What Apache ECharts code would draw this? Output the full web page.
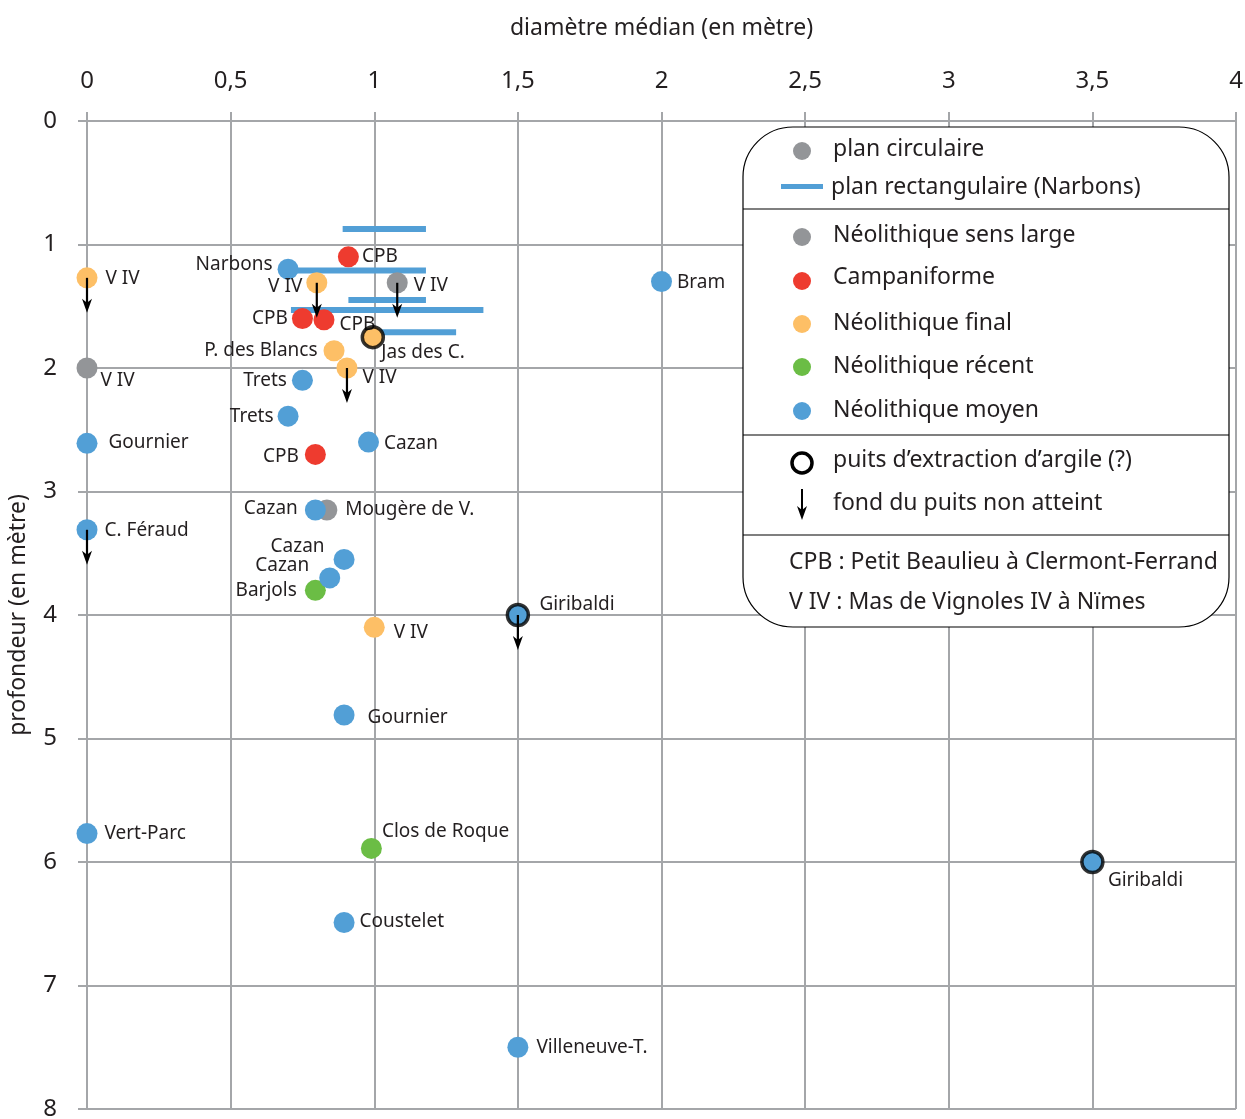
<!DOCTYPE html>
<html>
<head>
<meta charset="utf-8">
<script src="https://cdn.jsdelivr.net/npm/echarts@6/dist/echarts.min.js"></script>
<style>
html,body{margin:0;padding:0;background:#fff;}
#chart{width:1245px;height:1119px;}
</style>
</head>
<body>
<div id="chart"></div>
<script>
// ---------- DATA ----------
const xTickLabels = ['0', '0,5', '1', '1,5', '2', '2,5', '3', '3,5', '4'];
const yTickLabels = ['0', '1', '2', '3', '4', '5', '6', '7', '8'];

// [diamètre médian, profondeur, nom]
const neoSensLarge = [[0, 2.0, 'V IV'], [1.08, 1.31, 'V IV'], [0.835, 3.15, 'Mougère de V.']];
const campaniforme = [[0.91, 1.10, 'CPB'], [0.75, 1.60, 'CPB'], [0.825, 1.61, 'CPB'], [0.795, 2.70, 'CPB']];
const neoFinal = [[0, 1.27, 'V IV'], [0.80, 1.31, 'V IV'], [0.995, 1.75, 'Jas des C.'], [0.86, 1.86, 'P. des Blancs'], [0.905, 2.0, 'V IV'], [1.0, 4.10, 'V IV']];
const neoRecent = [[0.795, 3.80, 'Barjols'], [0.99, 5.89, 'Clos de Roque']];
const neoMoyen = [
  [0.70, 1.20, 'Narbons'], [2.0, 1.30, 'Bram'], [0.75, 2.10, 'Trets'], [0.70, 2.39, 'Trets'],
  [0, 2.61, 'Gournier'], [0.98, 2.60, 'Cazan'], [0, 3.31, 'C. Féraud'], [0.795, 3.15, 'Cazan'],
  [0.895, 3.55, 'Cazan'], [0.845, 3.70, 'Cazan'], [1.5, 4.0, 'Giribaldi'], [0.895, 4.81, 'Gournier'],
  [0, 5.77, 'Vert-Parc'], [3.5, 6.0, 'Giribaldi'], [0.895, 6.49, 'Coustelet'], [1.5, 7.5, 'Villeneuve-T.']
];
// plan rectangulaire (Narbons): [diamètre début, diamètre fin, profondeur]
const narbonsRect = [[0.89, 1.18, 0.875], [0.70, 1.18, 1.21], [0.91, 1.18, 1.45], [0.71, 1.38, 1.53], [1.0, 1.285, 1.71]];
// puits d'extraction d'argile (?)
const puits = [[0.995, 1.75], [1.5, 4.0], [3.5, 6.0]];
// fond du puits non atteint
const nonAtteint = [[0, 1.27], [0.80, 1.31], [1.08, 1.31], [0.905, 2.0], [0, 3.31], [1.5, 4.0]];

// ---------- LAYOUT / STYLE ----------
const FONT = 'Noto Sans';
const TXT = '#231F20';
const GRIDC = '#A4A6A9';
const colors = {gris: '#939598', rouge: '#EE3B2F', orange: '#FDBF66', vert: '#6BBD45', bleu: '#529FD6'};

// label placement per point: [position, gap, dy]
const labelLayout = {
  gris: [['right', 3, 13], ['right', 6, 3], ['right', 8, 0]],
  rouge: [['right', 3, 0], ['left', 4, 0], ['right', 5, 5], ['left', 6, 2]],
  orange: [['right', 8, 1], ['left', 4, 4], ['right', -2, 15], ['left', 6, 0], ['right', 5, 10], ['right', 9, 5]],
  vert: [['left', 8, 0], ['right', 0, -17]],
  bleu: [['left', 5, -5], ['right', 5, 1], ['left', 5, 0], ['left', 4, 0], ['right', 11, -1], ['right', 5, 1],
         ['right', 7, 1], ['left', 7, -1], ['left', 9, -13], ['left', 10, -12], ['right', 11, -10], ['right', 13, 3],
         ['right', 7, 0], ['right', 5, 19], ['right', 5, -1], ['right', 8, 0]]
};

function buildData(arr, key) {
  return arr.map((d, i) => {
    const l = labelLayout[key][i];
    return {
      value: [d[0], d[1]],
      name: d[2],
      label: {
        show: true,
        position: l[0],
        distance: 0,
        offset: [l[0] === 'left' ? -l[1] : l[1], l[2]],
        formatter: d[2]
      }
    };
  });
}

function scatterSeries(name, arr, key) {
  return {
    name: name,
    type: 'scatter',
    z: 3,
    symbol: 'circle',
    symbolSize: 21,
    itemStyle: {color: colors[key], opacity: 1},
    label: {fontFamily: FONT, fontSize: 19, color: TXT},
    emphasis: {disabled: true},
    data: buildData(arr, key)
  };
}

const chart = echarts.init(document.getElementById('chart'), null, {renderer: 'canvas'});

const option = {
  animation: false,
  backgroundColor: '#fff',
  textStyle: {fontFamily: FONT},
  grid: {left: 87, top: 121, right: 9, bottom: 10, containLabel: false, outerBoundsMode: 'none'},
  xAxis: {
    type: 'value', position: 'top', min: 0, max: 4, interval: 0.5,
    name: 'diamètre médian (en mètre)', nameLocation: 'middle', nameGap: 81,
    nameTextStyle: {fontFamily: FONT, fontSize: 23, color: TXT},
    axisLine: {show: true, lineStyle: {color: GRIDC, width: 2}},
    axisTick: {show: true, length: 9, lineStyle: {color: GRIDC, width: 2}},
    axisLabel: {margin: 28, fontFamily: FONT, fontSize: 24, color: TXT,
      formatter: v => xTickLabels[Math.round(v / 0.5)]},
    splitLine: {show: true, lineStyle: {color: GRIDC, width: 2}}
  },
  yAxis: {
    type: 'value', inverse: true, min: 0, max: 8, interval: 1,
    name: 'profondeur (en mètre)', nameLocation: 'middle', nameGap: 57, nameRotate: 90,
    nameTextStyle: {fontFamily: FONT, fontSize: 23, color: TXT},
    axisLine: {show: true, lineStyle: {color: GRIDC, width: 2}},
    axisTick: {show: true, length: 9, lineStyle: {color: GRIDC, width: 2}},
    axisLabel: {margin: 30, fontFamily: FONT, fontSize: 24, color: TXT,
      formatter: v => yTickLabels[Math.round(v)]},
    splitLine: {show: true, lineStyle: {color: GRIDC, width: 2}}
  },
  series: [
    {
      name: 'plan rectangulaire (Narbons)', type: 'custom', z: 2,
      renderItem: function (params, api) {
        const a = api.coord([api.value(0), api.value(2)]);
        const b = api.coord([api.value(1), api.value(2)]);
        return {type: 'rect', shape: {x: a[0], y: a[1] - 3, width: b[0] - a[0], height: 6},
          style: {fill: colors.bleu}};
      },
      encode: {x: [0, 1], y: 2},
      data: narbonsRect
    },
    scatterSeries('Néolithique sens large', neoSensLarge, 'gris'),
    scatterSeries('Campaniforme', campaniforme, 'rouge'),
    scatterSeries('Néolithique final', neoFinal, 'orange'),
    scatterSeries('Néolithique récent', neoRecent, 'vert'),
    scatterSeries('Néolithique moyen', neoMoyen, 'bleu'),
    {
      name: 'puits', type: 'scatter', z: 4, symbol: 'circle', symbolSize: 21,
      itemStyle: {color: 'rgba(0,0,0,0)', borderColor: '#000', borderWidth: 3.5},
      emphasis: {disabled: true},
      data: puits
    },
    {
      name: 'fond du puits non atteint', type: 'custom', z: 5,
      renderItem: function (params, api) {
        const p = api.coord([api.value(0), api.value(1)]);
        const x = p[0], y = p[1], L = 35;
        return {
          type: 'group',
          children: [
            {type: 'line', shape: {x1: x, y1: y, x2: x, y2: y + L - 6}, style: {stroke: '#000', lineWidth: 2.2}},
            {type: 'polygon', shape: {points: [[x - 5, y + L - 14], [x, y + L], [x + 5, y + L - 14], [x, y + L - 10]]},
              style: {fill: '#000'}}
          ]
        };
      },
      encode: {x: 0, y: 1},
      data: nonAtteint
    }
  ],
  graphic: [
    {type: 'rect', z: 10, shape: {x: 743, y: 127, width: 486, height: 500, r: 50},
      style: {fill: '#fff', stroke: '#000', lineWidth: 1.2}},
    {type: 'line', z: 11, shape: {x1: 743, y1: 209, x2: 1229, y2: 209}, style: {stroke: '#000', lineWidth: 1.2}},
    {type: 'line', z: 11, shape: {x1: 743, y1: 435, x2: 1229, y2: 435}, style: {stroke: '#000', lineWidth: 1.2}},
    {type: 'line', z: 11, shape: {x1: 743, y1: 535, x2: 1229, y2: 535}, style: {stroke: '#000', lineWidth: 1.2}},

    {type: 'circle', z: 11, shape: {cx: 802, cy: 151, r: 9}, style: {fill: colors.gris}},
    {type: 'text', z: 11, x: 833, y: 149, style: {text: 'plan circulaire', font: '23px "Noto Sans"', fill: TXT, verticalAlign: 'middle'}},
    {type: 'rect', z: 11, shape: {x: 781, y: 184, width: 42, height: 5}, style: {fill: colors.bleu}},
    {type: 'text', z: 11, x: 831, y: 187, style: {text: 'plan rectangulaire (Narbons)', font: '23px "Noto Sans"', fill: TXT, verticalAlign: 'middle'}},

    {type: 'circle', z: 11, shape: {cx: 802, cy: 237, r: 9}, style: {fill: colors.gris}},
    {type: 'text', z: 11, x: 833, y: 235, style: {text: 'Néolithique sens large', font: '23px "Noto Sans"', fill: TXT, verticalAlign: 'middle'}},
    {type: 'circle', z: 11, shape: {cx: 802, cy: 281, r: 9}, style: {fill: colors.rouge}},
    {type: 'text', z: 11, x: 833, y: 277, style: {text: 'Campaniforme', font: '23px "Noto Sans"', fill: TXT, verticalAlign: 'middle'}},
    {type: 'circle', z: 11, shape: {cx: 802, cy: 324, r: 9}, style: {fill: colors.orange}},
    {type: 'text', z: 11, x: 833, y: 323, style: {text: 'Néolithique final', font: '23px "Noto Sans"', fill: TXT, verticalAlign: 'middle'}},
    {type: 'circle', z: 11, shape: {cx: 802, cy: 367, r: 9}, style: {fill: colors.vert}},
    {type: 'text', z: 11, x: 833, y: 366, style: {text: 'Néolithique récent', font: '23px "Noto Sans"', fill: TXT, verticalAlign: 'middle'}},
    {type: 'circle', z: 11, shape: {cx: 802, cy: 411, r: 9}, style: {fill: colors.bleu}},
    {type: 'text', z: 11, x: 833, y: 410, style: {text: 'Néolithique moyen', font: '23px "Noto Sans"', fill: TXT, verticalAlign: 'middle'}},

    {type: 'circle', z: 11, shape: {cx: 802, cy: 463, r: 10}, style: {fill: '#fff', stroke: '#000', lineWidth: 3.5}},
    {type: 'text', z: 11, x: 833, y: 460, style: {text: 'puits d’extraction d’argile (?)', font: '23px "Noto Sans"', fill: TXT, verticalAlign: 'middle'}},
    {type: 'line', z: 11, shape: {x1: 802, y1: 489, x2: 802, y2: 514}, style: {stroke: '#000', lineWidth: 2}},
    {type: 'polygon', z: 11, shape: {points: [[797, 506], [802, 520], [807, 506], [802, 510]]}, style: {fill: '#000'}},
    {type: 'text', z: 11, x: 833, y: 503, style: {text: 'fond du puits non atteint', font: '23px "Noto Sans"', fill: TXT, verticalAlign: 'middle'}},

    {type: 'text', z: 11, x: 789, y: 562, style: {text: 'CPB : Petit Beaulieu à Clermont-Ferrand', font: '23px "Noto Sans"', fill: TXT, verticalAlign: 'middle'}},
    {type: 'text', z: 11, x: 789, y: 602, style: {text: 'V IV : Mas de Vignoles IV à Nïmes', font: '23px "Noto Sans"', fill: TXT, verticalAlign: 'middle'}}
  ]
};
chart.setOption(option);
</script>
</body>
</html>
